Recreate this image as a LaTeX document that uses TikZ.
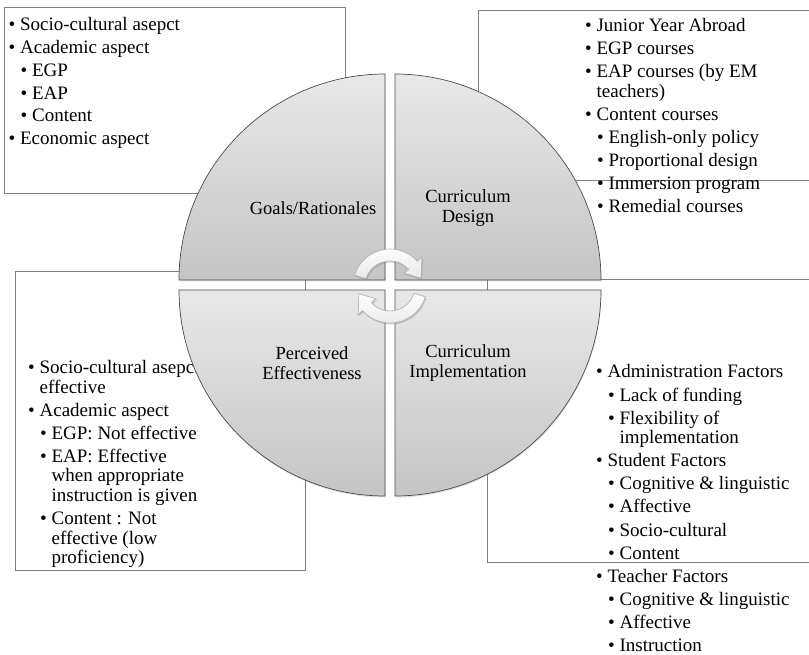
\documentclass[tikz,border=0pt]{standalone}
\usepackage{fontspec}
\setmainfont{Liberation Serif}
\usetikzlibrary{shadows}

\newcommand{\itembul}{\textbullet\ }
\newcommand{\subbul}{\hspace*{12pt}\textbullet\ }
\newcommand{\contind}{\hphantom{\textbullet\ }}
\newcommand{\subcontind}{\hspace*{12pt}\hphantom{\textbullet\ }}

\tikzset{
  listbox/.style={draw=gray, line width=0.9pt},
  listtext/.style={anchor=base west, align=left, inner sep=0pt, font=\fontsize{19}{19.5}\selectfont},
  quarter/.style={draw=gray!60!black, line width=0.7pt, top color=gray!18, bottom color=gray!46,
    drop shadow={opacity=0.25, shadow xshift=0.5pt, shadow yshift=-1.5pt}},
  qlabel/.style={align=center, inner sep=0pt, font=\fontsize{18.5}{20}\selectfont},
  cyclearrow/.style={draw=gray!60, line width=0.7pt, top color=white, bottom color=gray!18,
    drop shadow={opacity=0.35, shadow xshift=1pt, shadow yshift=-1.5pt}}
}

\begin{document}
\begin{tikzpicture}[x=1pt, y=1pt]
  \useasboundingbox (0,0) rectangle (809,-655);

  % boxes behind the circle
  \draw[listbox] (4,-7) rectangle (345,-193);
  \draw[listbox] (15,-271) rectangle (305,-570);
  \draw[listbox] (809,-10) -- (478,-10) -- (478,-180) -- (809,-180);
  \draw[listbox] (809,-279) -- (487,-279) -- (487,-562) -- (809,-562);

  % lists (placed by the baseline of their last line)
  \node[listtext] (goalsList) at (8.5,-144.5) {%
    \itembul Socio-cultural asepct\\[3.2pt]
    \itembul Academic aspect\\[3.2pt]
    \subbul EGP\\[3.2pt]
    \subbul EAP\\[3.2pt]
    \subbul Content\\[3.2pt]
    \itembul Economic aspect};
  \node[listtext] (designList) at (585,-213) {%
    \itembul Junior Year Abroad\\[3.6pt]
    \itembul EGP courses\\[3.6pt]
    \itembul EAP courses (by EM\\
    \contind teachers)\\[3.6pt]
    \itembul Content courses\\[3.6pt]
    \subbul English-only policy\\[3.6pt]
    \subbul Proportional design\\[3.6pt]
    \subbul Immersion program\\[3.6pt]
    \subbul Remedial courses};
  \node[listtext] (effectList) at (28,-563.5) {%
    \itembul Socio-cultural asepct\\
    \contind effective\\[3.6pt]
    \itembul Academic aspect\\[3.6pt]
    \subbul EGP: Not effective\\[3.6pt]
    \subbul EAP: Effective\\
    \subcontind when appropriate\\
    \subcontind instruction is given\\[3.6pt]
    \subbul Content : Not\\
    \subcontind effective (low\\
    \subcontind proficiency)};
  \node[listtext] (implList) at (596,-651.5) {%
    \itembul Administration Factors\\[3.6pt]
    \subbul Lack of funding\\[3.6pt]
    \subbul Flexibility of\\
    \subcontind implementation\\[3.6pt]
    \itembul Student Factors\\[3.6pt]
    \subbul Cognitive \& linguistic\\[3.6pt]
    \subbul Affective\\[3.6pt]
    \subbul Socio-cultural\\[3.6pt]
    \subbul Content\\[3.6pt]
    \itembul Teacher Factors\\[3.6pt]
    \subbul Cognitive \& linguistic\\[3.6pt]
    \subbul Affective\\[3.6pt]
    \subbul Instruction};

  % four quarters
  \draw[quarter] (385,-280) -- (179,-280) arc[start angle=180, end angle=90, radius=206] -- cycle;
  \draw[quarter] (395,-280) -- (395,-74) arc[start angle=90, end angle=0, radius=206] -- cycle;
  \draw[quarter] (385,-290) -- (385,-496) arc[start angle=270, end angle=180, radius=206] -- cycle;
  \draw[quarter] (395,-290) -- (601,-290) arc[start angle=0, end angle=-90, radius=206] -- cycle;

  \node[qlabel] (goals) at (313,-208) {Goals/Rationales};
  \node[qlabel] (design) at (468,-208) {Curriculum\\Design};
  \node[qlabel] (effect) at (312,-363) {Perceived\\Effectiveness};
  \node[qlabel] (impl) at (468,-363) {Curriculum\\Implementation};

  % cycle arrows
  \foreach \rot in {0,180}
    \draw[cyclearrow, shift={(390,-286)}, rotate=\rot]
      (163:37) arc[start angle=163, end angle=42, radius=37]
      -- (42:43) -- (14:32) -- (42:19) -- (42:25)
      arc[start angle=42, end angle=163, radius=25] -- cycle;
\end{tikzpicture}
\end{document}
